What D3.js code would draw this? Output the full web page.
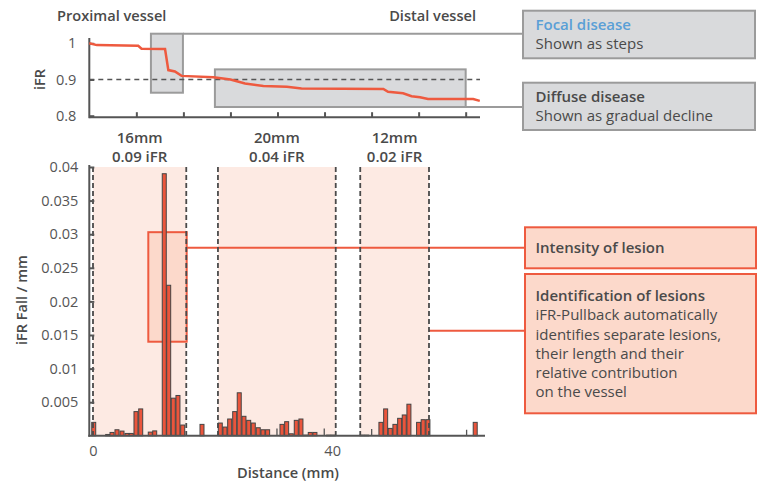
<!DOCTYPE html>
<html><head><meta charset="utf-8">
<script src="https://cdn.jsdelivr.net/npm/d3@7/dist/d3.min.js"></script>
<style>
body{margin:0;background:#fff;}
svg{display:block;font-family:"Open Sans",sans-serif;}
</style></head><body>
<svg id="c" width="757" height="484"></svg>
<script>
// ---------- DATA ----------
// top pullback curve (position units, iFR)
const curvePos = [0,0.16,1.04,1.11,1.61,1.68,1.82,1.96,2.64,3.0,3.31,3.70,4.2,4.51,6.25,6.35,6.67,6.85,7.03,7.20,8.16,8.30];
const curveIFR = [1.0,0.995,0.993,0.985,0.984,0.926,0.922,0.91,0.906,0.900,0.889,0.882,0.880,0.875,0.874,0.866,0.862,0.854,0.851,0.846,0.846,0.841];
const topYTicks = [0.8, 0.9, 1];
const topYTickLabels = ["0.8","0.9","1"];
const topXTicks = [1,2,3,4,5,6,7,8];
const iFRThreshold = 0.9;
// annotation boxes on top chart [x0,x1,y0,y1] in data units
const focalBox = [1.31, 1.99, 0.8635, 1.0265];
const diffuseBox = [2.67, 8.0, 0.824, 0.928];

// bottom: iFR fall per mm
const barDist = [0.12,2.46,3.18,4.01,4.85,5.69,6.40,7.19,7.98,9.58,10.32,11.92,12.66,13.43,14.21,15.0,18.23,
  21.29,22.07,22.86,23.70,24.46,25.25,26.04,26.81,27.64,28.43,29.21,31.61,32.39,33.16,34.0,34.78,35.57,36.34,37.12,39.41,40.18,
  44.98,45.77,48.16,48.95,49.72,50.5,51.29,52.06,52.84,54.46,55.23,56.02,63.93];
const barFall = [0.002,0.0002,0.0005,0.0009,0.0007,0.00035,0.00035,0.0036,0.004,0.00055,0.00073,0.039,0.0224,0.0056,0.006,0.0016,0.0017,
  0.0019,0.0013,0.0025,0.0036,0.0064,0.0029,0.0023,0.0019,0.0012,0.0009,0.0009,0.0017,0.0021,0.0003,0.0023,0.0025,0.0001,0.0005,0.0005,0.0001,0.0001,
  0.0001,0.0001,0.002,0.004,0.0011,0.0017,0.0026,0.0031,0.0047,0.002,0.0024,0.0024,0.002];
const spikeDist = [30.77,38.68,46.61,62.49];
const spikeFall = [0.0011,0.0011,0.001,0.0009];
const lesionStart = [0, 20.9, 44.7];
const lesionEnd = [15.6, 40.6, 56.2];
const lesionLength = ["16mm","20mm","12mm"];
const lesionDrop = ["0.09 iFR","0.04 iFR","0.02 iFR"];
const fallTicks = [0.005,0.01,0.015,0.02,0.025,0.03,0.035,0.04];
const fallTickLabels = ["0.005","0.01","0.015","0.02","0.025","0.03","0.035","0.04"];
const distTicks = [0, 40];
const intensityBox = [9.25, 15.67, 0.014, 0.0303];

// ---------- DRAW ----------
const svg = d3.select("#c");
const TXT = "#4a4a4a", AX = "#555", RED = "#ee5a3f";

// ===== top chart =====
const tx = d3.scaleLinear().domain([0, 8.33]).range([89.3, 481.2]);
const ty = d3.scaleLinear().domain([0.8, 1]).range([115.7, 43.3]);
const topAxisY = ty(0.8) + 1.5;

svg.append("text").attr("x",57).attr("y",21).attr("fill",TXT).attr("font-size",14.6).attr("font-weight",600).text("Proximal vessel");
svg.append("text").attr("x",476).attr("y",21).attr("text-anchor","end").attr("fill",TXT).attr("font-size",14.6).attr("font-weight",600).text("Distal vessel");

// connector lines (box edges extended)
svg.append("line").attr("x1",tx(focalBox[1])).attr("x2",523).attr("y1",ty(focalBox[3])).attr("y2",ty(focalBox[3])).attr("stroke","#9b9b9b").attr("stroke-width",2);
svg.append("line").attr("x1",tx(diffuseBox[1])).attr("x2",523).attr("y1",ty(diffuseBox[2])).attr("y2",ty(diffuseBox[2])).attr("stroke","#9b9b9b").attr("stroke-width",2);

[focalBox, diffuseBox].forEach(b=>{
  svg.append("rect").attr("x",tx(b[0])).attr("y",ty(b[3])).attr("width",tx(b[1])-tx(b[0])).attr("height",ty(b[2])-ty(b[3]))
    .attr("fill","#d9dadc").attr("stroke","#9b9b9b").attr("stroke-width",2);
});

// threshold dashed
svg.append("line").attr("x1",tx(0)).attr("x2",480).attr("y1",ty(iFRThreshold)).attr("y2",ty(iFRThreshold))
  .attr("stroke","#555").attr("stroke-width",1.3).attr("stroke-dasharray","5,4");

// axes
const topYAxis = d3.axisLeft(ty).tickValues(topYTicks).tickFormat((d,i)=>topYTickLabels[i]).tickSizeInner(-5).tickSizeOuter(0).tickPadding(13);
const gty = svg.append("g").attr("transform",`translate(${tx(0)},0)`).call(topYAxis);
gty.select(".domain").remove();
svg.append("line").attr("x1",tx(0)).attr("x2",tx(0)).attr("y1",38).attr("y2",topAxisY+1).attr("stroke",AX).attr("stroke-width",2);
const topXAxis = d3.axisBottom(tx).tickValues(topXTicks).tickFormat("").tickSizeInner(-5).tickSizeOuter(0);
const gtx = svg.append("g").attr("transform",`translate(0,${topAxisY})`).call(topXAxis);
gtx.select(".domain").remove();
svg.append("line").attr("x1",tx(0)).attr("x2",480).attr("y1",topAxisY).attr("y2",topAxisY).attr("stroke",AX).attr("stroke-width",2);
[gty,gtx].forEach(g=>{g.selectAll("line").attr("stroke",AX).attr("stroke-width",2);
  g.selectAll("text").attr("fill","#555").attr("font-size",14.5).attr("font-family","Open Sans");});

svg.append("text").attr("transform",`translate(45,${ty(0.9)}) rotate(-90)`).attr("text-anchor","middle")
  .attr("fill",TXT).attr("font-size",14.5).attr("font-weight",600).text("iFR");

// curve
const line = d3.line().x((d,i)=>tx(curvePos[i])).y((d,i)=>ty(curveIFR[i]));
svg.append("path").datum(curvePos).attr("d",line).attr("fill","none").attr("stroke",RED).attr("stroke-width",2.5);

// right gray boxes
function gbox(y0,y1,title,sub,titleColor){
  svg.append("rect").attr("x",523).attr("y",y0).attr("width",232).attr("height",y1-y0).attr("fill","#d9dadc").attr("stroke","#9b9b9b").attr("stroke-width",2);
  svg.append("text").attr("x",535.5).attr("y",y0+19).attr("fill",titleColor).attr("font-size",15).attr("font-weight",600).text(title);
  svg.append("text").attr("x",535.5).attr("y",y0+38).attr("fill",TXT).attr("font-size",15).text(sub);
}
gbox(10.7,58.3,"Focal disease","Shown as steps","#5a9fd6");
gbox(82.7,130,"Diffuse disease","Shown as gradual decline",TXT);

// ===== bottom chart =====
const bx = d3.scaleLinear().domain([0, 65.4]).range([93, 484]);
const by = d3.scaleLinear().domain([0, 0.04]).range([435.8, 167]);

// lesion regions
lesionStart.forEach((s,i)=>{
  const e = lesionEnd[i];
  svg.append("rect").attr("x",bx(s)).attr("y",by(0.04)).attr("width",bx(e)-bx(s)).attr("height",by(0)-by(0.04)).attr("fill","#fdeae3");
  const cx = (bx(s)+bx(e))/2;
  svg.append("text").attr("x",cx).attr("y",143).attr("text-anchor","middle").attr("fill",TXT).attr("font-size",15).attr("font-weight",600).text(lesionLength[i]);
  svg.append("text").attr("x",cx).attr("y",162).attr("text-anchor","middle").attr("fill",TXT).attr("font-size",15).attr("font-weight",600).text(lesionDrop[i]);
});

// intensity box + connectors
svg.append("rect").attr("x",bx(intensityBox[0])).attr("y",by(intensityBox[3])).attr("width",bx(intensityBox[1])-bx(intensityBox[0])).attr("height",by(intensityBox[2])-by(intensityBox[3]))
  .attr("fill","#fcd9cb").attr("stroke",RED).attr("stroke-width",2);
svg.append("line").attr("x1",bx(intensityBox[1])).attr("x2",525).attr("y1",247.7).attr("y2",247.7).attr("stroke",RED).attr("stroke-width",2);
svg.append("line").attr("x1",bx(lesionEnd[2])).attr("x2",525).attr("y1",330.7).attr("y2",330.7).attr("stroke",RED).attr("stroke-width",2);

// bars
const bw = 4;
svg.append("g").selectAll("rect").data(barDist).join("rect")
  .attr("x",(d)=>bx(d)-bw/2).attr("width",bw)
  .attr("y",(d,i)=>by(barFall[i])).attr("height",(d,i)=>by(0)-by(barFall[i]))
  .attr("fill","#ea553c").attr("stroke","#444").attr("stroke-width",1);
svg.append("g").selectAll("line").data(spikeDist).join("line")
  .attr("x1",d=>bx(d)).attr("x2",d=>bx(d)).attr("y1",(d,i)=>by(spikeFall[i])).attr("y2",by(0))
  .attr("stroke","#555").attr("stroke-width",1.3);

// dashed boundaries
[...lesionStart, ...lesionEnd].forEach(v=>{
  svg.append("line").attr("x1",bx(v)).attr("x2",bx(v)).attr("y1",by(0.04)).attr("y2",by(0))
    .attr("stroke","#4a4a4a").attr("stroke-width",1.8).attr("stroke-dasharray","5,3");
});

// axes
const fallAxis = d3.axisLeft(by).tickValues(fallTicks).tickFormat((d,i)=>fallTickLabels[i]).tickSizeInner(-5).tickSizeOuter(0).tickPadding(11);
const gby = svg.append("g").attr("transform","translate(89.3,0)").call(fallAxis);
gby.select(".domain").remove();
svg.append("line").attr("x1",89.3).attr("x2",89.3).attr("y1",165).attr("y2",by(0)+1).attr("stroke",AX).attr("stroke-width",2);
const distAxis = d3.axisBottom(bx).tickValues(distTicks).tickFormat(d3.format("d")).tickSize(0).tickPadding(10);
const gbx = svg.append("g").attr("transform",`translate(0,${by(0)})`).call(distAxis);
gbx.select(".domain").remove();
svg.append("line").attr("x1",88.3).attr("x2",485).attr("y1",by(0)).attr("y2",by(0)).attr("stroke",AX).attr("stroke-width",2);
[gby,gbx].forEach(g=>{g.selectAll("line").attr("stroke",AX).attr("stroke-width",2);
  g.selectAll("text").attr("fill","#555").attr("font-size",14.5).attr("font-family","Open Sans");});

svg.append("text").attr("transform","translate(27,300) rotate(-90)").attr("text-anchor","middle")
  .attr("fill",TXT).attr("font-size",14.5).attr("font-weight",600).text("iFR Fall / mm");
svg.append("text").attr("x",288).attr("y",478).attr("text-anchor","middle")
  .attr("fill",TXT).attr("font-size",14.6).attr("font-weight",600).text("Distance (mm)");

// right red boxes
svg.append("rect").attr("x",525).attr("y",227.3).attr("width",231).attr("height",41).attr("fill","#fcd9cb").attr("stroke",RED).attr("stroke-width",2);
svg.append("text").attr("x",535.5).attr("y",253).attr("fill",TXT).attr("font-size",15).attr("font-weight",600).text("Intensity of lesion");
svg.append("rect").attr("x",525).attr("y",274).attr("width",231).attr("height",139.3).attr("fill","#fcd9cb").attr("stroke",RED).attr("stroke-width",2);
const idLines = ["iFR-Pullback automatically","identifies separate lesions,","their length and their","relative contribution","on the vessel"];
svg.append("text").attr("x",535.5).attr("y",301).attr("fill",TXT).attr("font-size",15).attr("font-weight",600).text("Identification of lesions");
idLines.forEach((t,i)=>svg.append("text").attr("x",535.5).attr("y",320.3+i*19.2).attr("fill",TXT).attr("font-size",15).text(t));
</script>
</body></html>
